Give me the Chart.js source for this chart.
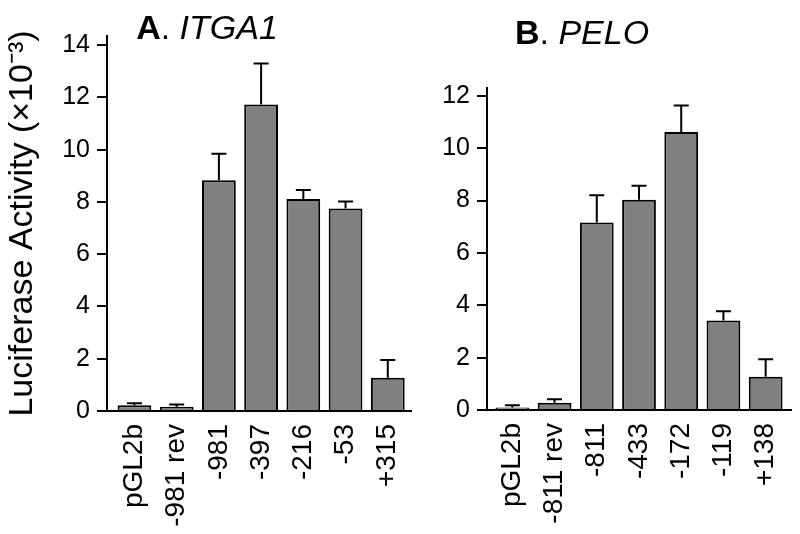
<!DOCTYPE html>
<html>
<head>
<meta charset="utf-8">
<script src="https://cdn.jsdelivr.net/npm/chart.js@4.4.1/dist/chart.umd.min.js"></script>
<style>
  body { margin: 0; background: #fff; }
  #wrap { position: relative; width: 800px; height: 534px; overflow: hidden; font-family: "Liberation Sans", Arial, sans-serif; }
  canvas { position: absolute; top: 0; }
  .panel-title { position: absolute; width: 300px; text-align: center; font-size: 34px; line-height: 34px; color: #000; }
</style>
</head>
<body>
<div id="wrap">
  <canvas id="chartA" width="412" height="534" style="left:0"></canvas>
  <canvas id="chartB" width="388" height="534" style="left:412px"></canvas>
  <div class="panel-title" style="left:57px; top:10px"><b>A</b>. <i>ITGA1</i></div>
  <div class="panel-title" style="left:432px; top:15px"><b>B</b>. <i>PELO</i></div>
</div>
<script>
// values (x10^-3), errors are the upper whiskers only

const labelsA = ["pGL2b", "-981 rev", "-981", "-397", "-216", "-53", "+315"]
const valuesA = [0.22, 0.16, 8.83, 11.73, 8.11, 7.75, 1.27]
const errorsA = [0.08, 0.09, 1.01, 1.57, 0.35, 0.27, 0.68]
const ticksA = [0, 2, 4, 6, 8, 10, 12, 14]

const labelsB = ["pGL2b", "-811 rev", "-811", "-433", "-172", "-119", "+138"]
const valuesB = [0.1, 0.28, 7.16, 8.03, 10.62, 3.42, 1.27]
const errorsB = [0.08, 0.13, 1.04, 0.54, 1.01, 0.35, 0.67]
const ticksB = [0, 2, 4, 6, 8, 10, 12]

const yTitle = "Luciferase Activity (\u00d710\u207b\u00b3)"

Chart.defaults.font.family = "'Liberation Sans', Arial, sans-serif"
Chart.defaults.color = "#000"

// draws the whisker + cap on top of each bar
const errorBars = {
  id: "errorBars",
  afterDatasetsDraw(chart) {
    const ctx = chart.ctx
    const yScale = chart.scales.y
    chart.data.datasets.forEach(function (ds, d) {
      const meta = chart.getDatasetMeta(d)
      meta.data.forEach(function (bar, i) {
        const top = yScale.getPixelForValue(ds.data[i].y + ds.errors[i])
        ctx.save()
        ctx.strokeStyle = "#000"
        ctx.lineWidth = 2
        ctx.beginPath()
        ctx.moveTo(bar.x, bar.y)
        ctx.lineTo(bar.x, top)
        ctx.moveTo(bar.x - 7.5, top)
        ctx.lineTo(bar.x + 7.5, top)
        ctx.stroke()
        ctx.restore()
      })
    })
  }
}

function makePanel(id, labels, values, errors, yTicks, box) {
  const points = values.map(function (v, i) { return {x: i, y: v} })

  return new Chart(document.getElementById(id), {
    type: "bar",
    data: {
      datasets: [{
        data: points,
        errors: errors,
        backgroundColor: "#808080",
        borderColor: "#000",
        borderWidth: 2,
        barPercentage: 0.8,
        categoryPercentage: 1.0
      }]
    },
    options: {
      responsive: false,
      animation: false,
      layout: {padding: {left: 0, right: box.right, top: box.top, bottom: 0}},
      plugins: {legend: {display: false}, tooltip: {enabled: false}},
      scales: {
        x: {
          type: "linear",
          offset: false,
          min: box.xmin,
          max: box.xmax,
          grid: {display: false, drawTicks: false},
          border: {display: true, color: "#000", width: 2},
          ticks: {
            font: {size: 28},
            padding: 13,
            minRotation: 90,
            maxRotation: 90,
            autoSkip: false,
            callback: function (v) { return labels[v] }
          },
          afterBuildTicks: function (scale) {
            scale.ticks = labels.map(function (l, i) { return {value: i} })
          },
          afterFit: function (scale) {
            scale.height = box.xHeight
            scale.paddingLeft = 0
            scale.paddingRight = 0
          }
        },
        y: {
          min: 0,
          max: box.ymax,
          grid: {drawOnChartArea: false, drawTicks: true, tickLength: 10, color: "#000", lineWidth: 2},
          border: {display: true, color: "#000", width: 2},
          ticks: {font: {size: 25}, padding: 7},
          title: {
            display: box.showTitle,
            text: yTitle,
            font: {size: 34},
            padding: {top: 2, bottom: 0}
          },
          afterBuildTicks: function (scale) {
            scale.ticks = yTicks.map(function (v) { return {value: v} })
          },
          afterFit: function (scale) {
            scale.width = box.yWidth
            scale.paddingTop = 0
            scale.paddingBottom = 0
          }
        }
      }
    },
    plugins: [errorBars]
  })
}

makePanel("chartA", labelsA, valuesA, errorsA, ticksA,
  {top: 36, right: 1, xHeight: 123, yWidth: 107, ymax: 14.35, xmin: -0.65, xmax: 6.55, showTitle: true})

makePanel("chartB", labelsB, valuesB, errorsB, ticksB,
  {top: 88, right: 9, xHeight: 124, yWidth: 75, ymax: 12.3, xmin: -0.6, xmax: 6.6, showTitle: false})
</script>
</body>
</html>
